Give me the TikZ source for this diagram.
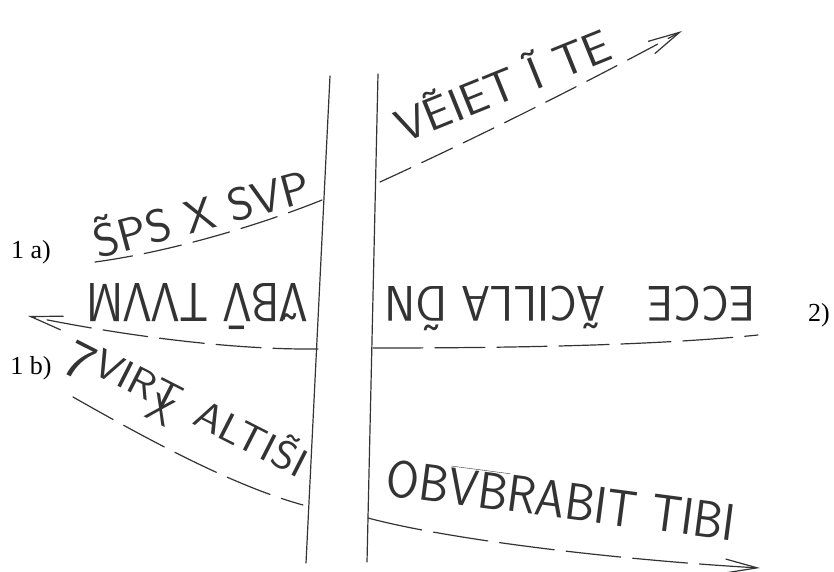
\documentclass[tikz,border=0pt]{standalone}
\usepackage{fontspec}
\setmainfont{Liberation Serif}
\usetikzlibrary{arrows.meta}
\newcommand\tildeon[1]{\ooalign{#1\cr\hidewidth\raisebox{0.22em}{\char"02DC}\hidewidth\cr}}
\newcommand\baron[1]{\ooalign{#1\cr\hidewidth\raisebox{0.2em}{\char"00AF}\hidewidth\cr}}
\tikzset{
  pencil/.style={line width=1.2pt, black!80, line cap=round},
  dashline/.style={pencil, dash pattern=on #1 off 12pt},
  barb/.style={-{Straight Barb[length=32pt,width=14pt,line width=1.2pt]}},
  lettering/.style={font=\sffamily\fontsize{#1}{#1}\selectfont, text=black!80, inner sep=0pt, anchor=base},
  tag/.style={font=\fontsize{26}{26}\selectfont, inner sep=0pt}
}
\begin{document}
\begin{tikzpicture}[x=1pt, y=-1pt]
  \useasboundingbox (0,0) rectangle (834,572);
  \coordinate (lt) at (330,76);
  \coordinate (lb) at (306,563);
  \coordinate (rt) at (378,74);
  \coordinate (rb) at (367,562);
  \draw[pencil] (lt) -- (lb);
  \draw[pencil] (rt) -- (rb);

  \coordinate (a0) at (95,262);
  \coordinate (a1) at (322,200);
  \coordinate (b0) at (380,182);
  \coordinate (b1) at (682,31);
  \coordinate (c0) at (318,349);
  \coordinate (c1) at (28,316);
  \coordinate (d0) at (373,348);
  \coordinate (d1) at (758,335);
  \coordinate (e0) at (73,397);
  \coordinate (e1) at (303,505);
  \coordinate (f0) at (368,518);
  \coordinate (f1) at (760,568);

  \draw[dashline=38pt] (a0) .. controls (170,252) and (260,225) .. (a1);
  \draw[dashline=34pt, barb] (b0) .. controls (450,150) and (560,97) .. (b1);
  \draw[dashline=45pt, barb] (c0) .. controls (230,350) and (120,335) .. (c1);
  \draw[dashline=50pt] (d0) .. controls (500,348) and (650,346) .. (d1);
  \draw[dashline=46pt] (e0) .. controls (140,435) and (230,485) .. (e1);
  \draw[dashline=55pt, barb] (f0) .. controls (450,540) and (620,560) .. (f1);

  \node[lettering=46, rotate=15, xscale=1.04] (spiritus) at (206,230) {\tildeon{S}PS X SVP};
  \node[lettering=46, rotate=22, xscale=1.05] (veniet) at (509,101) {V\~{E}IET \~{I} TE};
  \node[lettering=55, rotate=180, xscale=0.82] (verbum) at (197,283) {\~{V}B\baron{V} TVVM};
  \node[lettering=50, rotate=180, xscale=0.93] (ecce) at (570,286) {ECCE\hspace{0.9em}\~{A}CILLA\hspace{0.3em}\tildeon{D}N};
  \node[lettering=40, rotate=-27, xscale=1.1] (virtus) at (182,419)
    {\raisebox{-0.3em}{\fontsize{54}{54}\selectfont 7}VIRT\hspace{0.45em}ALTI\tildeon{S}I};
  \node[lettering=40, rotate=-27] (usmark) at (155,422) {X};
  \node[lettering=52, rotate=-7.5, xscale=0.91] (obumbrabit) at (559,518)
    {OB$\overline{\mbox{VB}}$RABIT TIBI};

  \node[tag] (tagA) at (31,252) {1 a)};
  \node[tag] (tagB) at (31,368) {1 b)};
  \node[tag] (tagC) at (819,315) {2)};
\end{tikzpicture}
\end{document}
